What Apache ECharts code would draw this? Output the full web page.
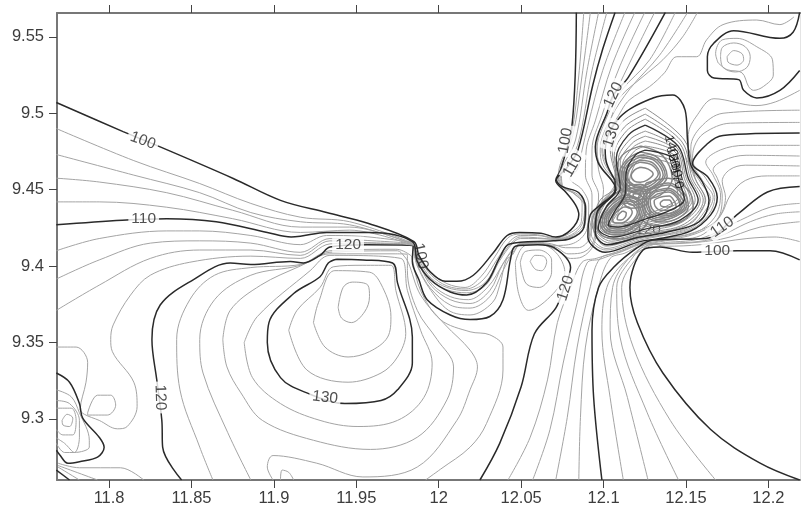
<!DOCTYPE html>
<html><head><meta charset="utf-8">
<script src="https://cdn.jsdelivr.net/npm/echarts@6/dist/echarts.min.js"></script>
<style>html,body{margin:0;padding:0;background:#fff}#c{width:801px;height:510px}</style>
</head><body><div id="c"></div>
<script>
const xTicks=[11.8,11.85,11.9,11.95,12,12.05,12.1,12.15,12.2];
const yTicks=[9.3,9.35,9.4,9.45,9.5,9.55];
// major contours
const c100a=[[11.768,9.507],[11.8085,9.488],[11.831,9.478],[11.875,9.4575],[11.904,9.443],[11.932,9.435],[11.957,9.428],[11.985,9.416],[11.988,9.407],[11.995,9.396],[12.004,9.390],[12.011,9.39],[12.021,9.394],[12.033,9.4085],[12.0415,9.420],[12.049,9.422],[12.062,9.4215],[12.071,9.419],[12.08,9.4235],[12.085,9.4335],[12.083,9.44],[12.077,9.4485],[12.071,9.456],[12.074,9.463],[12.081,9.4935],[12.0835,9.566]];
const c100b=[[12.219,9.26],[12.195,9.271],[12.165,9.293],[12.136,9.33],[12.1205,9.363],[12.116,9.386],[12.124,9.4105],[12.134,9.4125],[12.154,9.409],[12.181,9.41],[12.201,9.41],[12.219,9.404]];
const c110a=[[11.768,9.427],[11.808,9.43],[11.835,9.431],[11.865,9.429],[11.896,9.422],[11.9105,9.419],[11.916,9.4195],[11.932,9.422],[11.958,9.422],[11.984,9.416],[11.987,9.403],[11.995,9.391],[12.007,9.383],[12.017,9.381],[12.029,9.389],[12.037,9.4055],[12.043,9.4145],[12.0695,9.4165],[12.08,9.418],[12.088,9.425],[12.089,9.438],[12.085,9.448],[12.075,9.452],[12.0715,9.4565],[12.0775,9.464],[12.0845,9.476],[12.0935,9.5185],[12.0995,9.542],[12.107,9.566]];
const c110b=[[12.099,9.26],[12.094,9.314],[12.093,9.358],[12.097,9.386],[12.106,9.399],[12.1205,9.412],[12.130,9.417],[12.162,9.418],[12.182,9.4345],[12.1995,9.4485],[12.219,9.452]];
const c120a=[[11.844,9.26],[11.8325,9.2815],[11.832,9.299],[11.829,9.325],[11.826,9.352],[11.831,9.3745],[11.851,9.391],[11.8735,9.402],[11.886,9.401],[11.91,9.403],[11.918,9.402],[11.928,9.407],[11.934,9.4125],[11.9565,9.414],[11.9845,9.413],[11.984,9.403],[11.988,9.391],[11.993,9.378],[12.007,9.368],[12.019,9.365],[12.031,9.367],[12.039,9.378],[12.0435,9.404],[12.0465,9.413],[12.06,9.414],[12.07,9.412],[12.08,9.399],[12.076,9.386],[12.071,9.3725],[12.058,9.3555],[12.05,9.321],[12.037,9.284],[12.025,9.26]];
const c120b=[[12.1375,9.566],[12.115,9.5235],[12.106,9.512],[12.102,9.5],[12.095,9.478],[12.097,9.467],[12.1075,9.45],[12.098,9.44],[12.092,9.4335],[12.0905,9.419],[12.101,9.409],[12.122,9.416],[12.134,9.418],[12.153,9.423],[12.165,9.4335],[12.169,9.445],[12.1635,9.458],[12.154,9.467],[12.163,9.48],[12.1725,9.4855],[12.219,9.487]];
const c130a=[[12.219,9.528],[12.207,9.515],[12.193,9.51],[12.185,9.515],[12.182,9.522],[12.167,9.523],[12.163,9.528],[12.163,9.537],[12.167,9.546],[12.179,9.554],[12.207,9.549],[12.215,9.553],[12.219,9.566]];
const c130b=[[12.107,9.456],[12.102,9.467],[12.101,9.476],[12.11,9.4975],[12.13,9.51],[12.142,9.512],[12.1495,9.502],[12.151,9.482],[12.153,9.466],[12.16,9.455],[12.164,9.443],[12.158,9.429],[12.1375,9.422],[12.122,9.419],[12.102,9.414],[12.095,9.422],[12.096,9.435],[12.107,9.45],[12.107,9.456]];
const c130c=[[11.938,9.4045],[11.954,9.404],[11.972,9.402],[11.975,9.389],[11.984,9.3535],[11.984,9.3365],[11.975,9.319],[11.965,9.312],[11.943,9.31],[11.92,9.317],[11.904,9.327],[11.896,9.35],[11.897,9.363],[11.912,9.382],[11.928,9.393],[11.933,9.402],[11.938,9.4045]];
const cCornerA=[[11.768,9.33],[11.776,9.324],[11.782,9.31],[11.784,9.3005],[11.794,9.288],[11.797,9.2815],[11.793,9.275],[11.782,9.272],[11.775,9.271],[11.77,9.2765],[11.768,9.2795]];
const cCornerB=[[11.768,9.2665],[11.776,9.26]];
// blob major rings
const r5=[[12.1253,9.4922],[12.115,9.4857],[12.1077,9.4706],[12.1101,9.451],[12.1016,9.4386],[12.0968,9.4249],[12.1059,9.419],[12.1253,9.4242],[12.1465,9.4301],[12.1574,9.4432],[12.1514,9.4575],[12.1453,9.4785]];
const r10=[[12.1253,9.4759],[12.1193,9.4726],[12.1138,9.4615],[12.1132,9.4477],[12.1065,9.4353],[12.1029,9.4268],[12.1089,9.4255],[12.1253,9.4307],[12.1405,9.4366],[12.149,9.4438],[12.1453,9.4575],[12.1423,9.4706]];
// minor contours, left fan
const L1=[[11.768,9.49],[11.815,9.469],[11.855,9.454],[11.886,9.441],[11.916,9.432],[11.946,9.429],[11.9845,9.415]];
const L2=[[11.768,9.473],[11.815,9.4595],[11.855,9.448],[11.886,9.435],[11.916,9.429],[11.946,9.427],[11.9845,9.4145]];
const L3=[[11.768,9.4575],[11.794,9.455],[11.835,9.448],[11.875,9.4365],[11.916,9.4255],[11.946,9.4255],[11.9845,9.414]];
const L4=[[11.768,9.442],[11.794,9.442],[11.835,9.4385],[11.875,9.431],[11.916,9.422],[11.946,9.4235],[11.9845,9.4135]];
const M1=[[11.768,9.41],[11.794,9.418],[11.835,9.423],[11.855,9.423],[11.886,9.42],[11.916,9.414],[11.932,9.42],[11.9525,9.4195],[11.984,9.4155]];
const M2=[[11.768,9.3915],[11.794,9.404],[11.825,9.415],[11.855,9.4165],[11.886,9.415],[11.916,9.409],[11.934,9.418],[11.9525,9.417],[11.984,9.415]];
const M3=[[11.768,9.371],[11.794,9.3875],[11.825,9.405],[11.855,9.4105],[11.886,9.4105],[11.916,9.407],[11.934,9.4165],[11.9525,9.4155],[11.984,9.4145]];
const M4=[[11.984,9.414],[11.9525,9.415],[11.934,9.4145],[11.916,9.405],[11.886,9.4065],[11.849,9.4025],[11.825,9.394],[11.813,9.381],[11.8025,9.3615],[11.801,9.352],[11.802,9.344],[11.815,9.324],[11.817,9.308],[11.811,9.295],[11.805,9.2935],[11.794,9.299],[11.785,9.303],[11.7825,9.306],[11.786,9.324],[11.787,9.337],[11.78,9.347],[11.768,9.347]];
// central hill
const ringA=[[11.909,9.358],[11.914,9.371],[11.928,9.386],[11.936,9.3995],[11.954,9.4005],[11.971,9.4005],[11.974,9.384],[11.98,9.356],[11.975,9.3405],[11.965,9.33],[11.945,9.324],[11.92,9.332],[11.909,9.358]];
const ringB=[[11.924,9.363],[11.927,9.376],[11.937,9.397],[11.958,9.396],[11.966,9.386],[11.971,9.367],[11.969,9.3535],[11.958,9.344],[11.945,9.3405],[11.931,9.347],[11.924,9.363]];
const ringC=[[11.939,9.373],[11.942,9.386],[11.9475,9.3895],[11.957,9.3875],[11.958,9.38],[11.955,9.37],[11.947,9.363],[11.941,9.366],[11.939,9.373]];
const g1=[[11.882,9.35],[11.89,9.367],[11.922,9.397],[11.934,9.407],[11.977,9.405],[11.981,9.384],[11.989,9.358],[11.996,9.3365],[11.991,9.314],[11.975,9.299],[11.951,9.295],[11.928,9.299],[11.904,9.31],[11.887,9.327],[11.882,9.35]];
const g2=[[11.869,9.352],[11.8735,9.371],[11.892,9.3875],[11.916,9.4],[11.934,9.408],[11.974,9.408],[11.981,9.4075],[11.981,9.397],[11.987,9.371],[11.999,9.352],[12.009,9.334],[12.005,9.3125],[11.987,9.288],[11.9585,9.28],[11.924,9.286],[11.893,9.299],[11.88,9.317],[11.8715,9.334],[11.869,9.352]];
const g3=[[11.886,9.26],[11.872,9.291],[11.857,9.33],[11.855,9.352],[11.864,9.378],[11.886,9.394],[11.916,9.4005],[11.934,9.409],[11.975,9.41],[11.979,9.4065],[11.9815,9.4025],[11.989,9.381],[12.004,9.3615],[12.019,9.345],[12.0235,9.334],[12.019,9.319],[12.011,9.299],[11.987,9.2685],[11.954,9.262],[11.926,9.271],[11.8995,9.276],[11.896,9.2685],[11.8995,9.26]];
const g4=[[11.863,9.26],[11.855,9.2815],[11.843,9.319],[11.841,9.352],[11.849,9.378],[11.864,9.394],[11.886,9.399],[11.916,9.401],[11.934,9.41],[11.974,9.411],[11.983,9.407],[11.984,9.404],[11.989,9.384],[12.001,9.365],[12.019,9.357],[12.031,9.355],[12.039,9.347],[12.039,9.332],[12.029,9.297],[12.019,9.2815],[12.001,9.267],[11.992,9.26]];
const g5=[[11.904,9.26],[11.905,9.2665],[11.909,9.265],[11.912,9.26]];
// corner
const z1=[[11.7715,9.299],[11.7745,9.303],[11.778,9.3005],[11.776,9.295],[11.772,9.296],[11.7715,9.299]];
const z2=[[11.768,9.307],[11.777,9.307],[11.78,9.299],[11.778,9.2895],[11.772,9.2895],[11.768,9.293]];
const z3=[[11.768,9.312],[11.776,9.31],[11.782,9.299],[11.782,9.288],[11.779,9.278],[11.773,9.284],[11.768,9.2875]];
const z4=[[11.768,9.319],[11.777,9.3145],[11.782,9.304],[11.788,9.286],[11.788,9.2815],[11.779,9.278],[11.773,9.278],[11.768,9.284]];
const z5=[[11.787,9.304],[11.793,9.3155],[11.801,9.3155],[11.804,9.309],[11.799,9.3025],[11.787,9.3025],[11.787,9.304]];
const z6=[[11.769,9.271],[11.782,9.268],[11.807,9.268],[11.821,9.26]];
const z7=[[11.769,9.2695],[11.793,9.26]];
const z8=[[11.769,9.2685],[11.782,9.26]];
// valley minors
const Da=[[12.088,9.566],[12.085,9.525],[12.0805,9.486],[12.0725,9.459],[12.0735,9.454],[12.0815,9.448],[12.087,9.441],[12.0865,9.429],[12.0795,9.4215],[12.0705,9.4185],[12.06,9.4205],[12.0495,9.421],[12.042,9.4185],[12.034,9.406],[12.0255,9.393],[12.016,9.386],[12.005,9.3885],[11.9955,9.396],[11.988,9.406],[11.9845,9.414]];
const Db=[[12.092,9.566],[12.087,9.525],[12.0815,9.486],[12.073,9.458],[12.0745,9.453],[12.0825,9.447],[12.0885,9.439],[12.087,9.4275],[12.0805,9.4205],[12.0705,9.418],[12.06,9.42],[12.0495,9.42],[12.0435,9.4165],[12.0355,9.4045],[12.027,9.391],[12.0165,9.385],[12.005,9.387],[11.9955,9.394],[11.9885,9.4045],[11.9845,9.4135]];
const Dc=[[12.097,9.566],[12.09,9.528],[12.083,9.4825],[12.074,9.459],[12.075,9.452],[12.0835,9.4465],[12.089,9.4385],[12.088,9.427],[12.081,9.42],[12.0705,9.4175],[12.06,9.4185],[12.0495,9.419],[12.044,9.415],[12.0365,9.404],[12.028,9.389],[12.0165,9.384],[12.005,9.386],[11.9955,9.392],[11.9885,9.403],[11.9845,9.413]];
const Dd=[[12.102,9.566],[12.093,9.528],[12.0842,9.479],[12.0745,9.459],[12.0757,9.4515],[12.0842,9.447],[12.0895,9.4385],[12.0885,9.426],[12.0817,9.4195],[12.0705,9.4175],[12.06,9.418],[12.0495,9.418],[12.0445,9.4145],[12.037,9.4035],[12.0285,9.3875],[12.017,9.3825],[12.005,9.3845],[11.9955,9.391],[11.988,9.402],[11.9845,9.4125]];
const V4=[[12.113,9.566],[12.0995,9.528],[12.0905,9.492],[12.087,9.476],[12.084,9.463],[12.0795,9.4575],[12.087,9.45],[12.091,9.44],[12.09,9.4245],[12.083,9.4155],[12.071,9.4135],[12.06,9.415],[12.0495,9.4145],[12.0445,9.4105],[12.039,9.4015],[12.03,9.3865],[12.018,9.378],[12.007,9.38],[11.9965,9.3875],[11.9895,9.399],[11.985,9.4105]];
const V3=[[12.119,9.566],[12.105,9.531],[12.095,9.495],[12.0895,9.476],[12.089,9.4595],[12.093,9.4465],[12.093,9.43],[12.091,9.417],[12.0845,9.412],[12.077,9.412],[12.0685,9.4145],[12.06,9.4155],[12.05,9.415],[12.045,9.4105],[12.0385,9.4005],[12.031,9.384],[12.019,9.3755],[12.007,9.378],[11.9955,9.387],[11.989,9.3995],[11.985,9.41]];
const V2=[[12.125,9.566],[12.11,9.531],[12.099,9.4985],[12.093,9.476],[12.093,9.4595],[12.097,9.4465],[12.0955,9.429],[12.093,9.414],[12.086,9.4085],[12.0785,9.408],[12.071,9.4125],[12.06,9.415],[12.0505,9.4145],[12.046,9.4105],[12.039,9.397],[12.031,9.38],[12.019,9.3725],[12.007,9.3745],[11.995,9.3855],[11.988,9.3985],[11.985,9.409]];
const V1=[[12.131,9.566],[12.115,9.531],[12.104,9.505],[12.096,9.479],[12.097,9.463],[12.1,9.45],[12.098,9.437],[12.094,9.414],[12.087,9.406],[12.08,9.405],[12.0725,9.41],[12.06,9.4145],[12.0495,9.414],[12.0445,9.407],[12.041,9.404],[12.037,9.3875],[12.0325,9.376],[12.019,9.368],[12.006,9.371],[11.994,9.386],[11.987,9.4],[11.985,9.408]];
// lower fan
const F1=[[12.042,9.26],[12.0555,9.288],[12.066,9.3255],[12.072,9.363],[12.08,9.386],[12.087,9.4025],[12.0955,9.405],[12.11,9.41],[12.122,9.415],[12.1375,9.418],[12.156,9.422],[12.1675,9.432],[12.171,9.4465],[12.1665,9.4595],[12.162,9.468],[12.171,9.476],[12.186,9.479],[12.219,9.479]];
const F2=[[12.057,9.26],[12.0675,9.293],[12.0755,9.3365],[12.084,9.376],[12.09,9.402],[12.098,9.4045],[12.1115,9.41],[12.122,9.4145],[12.1375,9.418],[12.155,9.422],[12.169,9.4305],[12.172,9.4465],[12.169,9.4575],[12.1665,9.463],[12.1725,9.469],[12.1865,9.4725],[12.219,9.472]];
const F3=[[12.071,9.26],[12.078,9.301],[12.084,9.347],[12.092,9.3865],[12.098,9.405],[12.11,9.409],[12.122,9.414],[12.1375,9.417],[12.1555,9.421],[12.1685,9.4295],[12.174,9.445],[12.172,9.4555],[12.1765,9.463],[12.186,9.466],[12.219,9.4655]];
const F4=[[12.085,9.26],[12.086,9.301],[12.089,9.347],[12.097,9.3865],[12.104,9.405],[12.113,9.4085],[12.122,9.413],[12.1375,9.4165],[12.159,9.42],[12.171,9.433],[12.177,9.4465],[12.186,9.456],[12.1995,9.459],[12.219,9.459]];
const F5=[[12.112,9.26],[12.104,9.314],[12.099,9.358],[12.102,9.386],[12.112,9.402],[12.1265,9.4125],[12.1345,9.415],[12.159,9.418],[12.183,9.43],[12.201,9.4385],[12.219,9.441]];
const F6=[[12.127,9.26],[12.1145,9.314],[12.104,9.358],[12.1055,9.386],[12.1145,9.404],[12.1265,9.4135],[12.1345,9.4145],[12.165,9.4175],[12.189,9.429],[12.204,9.434],[12.219,9.4355]];
const F7=[[12.1455,9.26],[12.1265,9.304],[12.11,9.3535],[12.108,9.386],[12.118,9.406],[12.128,9.415],[12.1345,9.4145],[12.171,9.4175],[12.195,9.4255],[12.219,9.429]];
const F8=[[12.168,9.26],[12.1405,9.299],[12.118,9.347],[12.111,9.386],[12.1205,9.406],[12.1295,9.4145],[12.1375,9.413],[12.159,9.414],[12.187,9.418],[12.204,9.419],[12.219,9.416]];
// upper band
const U1=[[12.1435,9.566],[12.128,9.535],[12.111,9.515],[12.101,9.495],[12.096,9.476],[12.098,9.466],[12.108,9.451],[12.098,9.441],[12.093,9.4315],[12.0915,9.4195],[12.1015,9.4105],[12.122,9.417],[12.134,9.4195],[12.153,9.424],[12.164,9.434],[12.1675,9.445],[12.162,9.4575],[12.154,9.469],[12.155,9.478],[12.161,9.487],[12.177,9.4935],[12.219,9.494]];
const U2=[[12.151,9.566],[12.134,9.538],[12.116,9.516],[12.1045,9.497],[12.098,9.476],[12.0995,9.466],[12.108,9.4525],[12.098,9.44],[12.093,9.429],[12.0925,9.421],[12.1015,9.4115],[12.122,9.418],[12.134,9.42],[12.153,9.425],[12.1625,9.435],[12.1665,9.445],[12.16,9.456],[12.153,9.4705],[12.153,9.478],[12.159,9.491],[12.1725,9.5],[12.219,9.502]];
const U3=[[12.157,9.566],[12.148,9.55],[12.136,9.535],[12.124,9.524],[12.11,9.5105],[12.105,9.498],[12.099,9.476],[12.1005,9.4675],[12.107,9.4535],[12.0965,9.438],[12.094,9.425],[12.1015,9.413],[12.122,9.4185],[12.134,9.42],[12.153,9.426],[12.1615,9.436],[12.165,9.444],[12.159,9.4545],[12.1515,9.47],[12.1515,9.486],[12.157,9.499],[12.167,9.5095],[12.1925,9.505],[12.2045,9.5075],[12.219,9.515]];
const U4=[[12.2155,9.563],[12.207,9.558],[12.193,9.561],[12.1725,9.558],[12.1625,9.548],[12.1565,9.537],[12.1445,9.537],[12.137,9.5265],[12.128,9.5175],[12.116,9.509],[12.111,9.502],[12.0995,9.476],[12.102,9.466],[12.107,9.455],[12.098,9.44],[12.094,9.4235],[12.1025,9.414],[12.122,9.419],[12.153,9.428],[12.16,9.438],[12.162,9.443],[12.156,9.456],[12.15,9.471]];
// small hills
const hillA=[[12.1695,9.533],[12.168,9.539],[12.172,9.548],[12.181,9.549],[12.193,9.5435],[12.2025,9.535],[12.203,9.525],[12.197,9.5175],[12.191,9.515],[12.188,9.5175],[12.184,9.5265],[12.175,9.5285],[12.1695,9.533]];
const hillB=[[12.171,9.537],[12.172,9.543],[12.179,9.546],[12.186,9.5435],[12.189,9.537],[12.187,9.53],[12.18,9.527],[12.1725,9.53],[12.171,9.537]];
const hillC=[[12.175,9.537],[12.179,9.541],[12.184,9.539],[12.185,9.535],[12.181,9.5315],[12.1755,9.5335],[12.175,9.537]];
const hill2A=[[12.0465,9.4025],[12.051,9.4125],[12.0605,9.4145],[12.071,9.409],[12.0765,9.396],[12.0695,9.382],[12.0545,9.371],[12.0485,9.382],[12.0465,9.4025]];
const hill2B=[[12.0495,9.4025],[12.0525,9.4095],[12.061,9.4105],[12.0685,9.404],[12.0685,9.396],[12.061,9.386],[12.0535,9.388],[12.0505,9.396],[12.0495,9.4025]];
const hill2C=[[12.0555,9.403],[12.0585,9.407],[12.0635,9.4065],[12.0655,9.403],[12.0625,9.397],[12.0585,9.398],[12.0555,9.403]];
// blob minor rings
const r2=[[12.1253,9.5033],[12.1114,9.4942],[12.1041,9.4759],[12.1083,9.453],[12.098,9.4432],[12.0931,9.4268],[12.1041,9.415],[12.1253,9.4209],[12.1496,9.4261],[12.1617,9.4432],[12.1556,9.4575],[12.149,9.4825]];
const r3=[[12.1253,9.4994],[12.1126,9.4909],[12.1053,9.4746],[12.1089,9.4523],[12.0992,9.4412],[12.0944,9.4262],[12.1047,9.4163],[12.1253,9.4216],[12.149,9.4275],[12.1605,9.4432],[12.1538,9.4575],[12.1477,9.4811]];
const r4=[[12.1253,9.4961],[12.1138,9.4883],[12.1065,9.4726],[12.1095,9.4517],[12.1004,9.4399],[12.0956,9.4255],[12.1053,9.4177],[12.1253,9.4229],[12.1477,9.4288],[12.1587,9.4432],[12.1526,9.4575],[12.1465,9.4798]];
const r6=[[12.1253,9.4883],[12.1162,9.483],[12.1089,9.4693],[12.1107,9.4504],[12.1029,9.4373],[12.098,9.4249],[12.1065,9.4203],[12.1253,9.4255],[12.1453,9.4314],[12.1556,9.4432],[12.1502,9.4575],[12.1447,9.4772]];
const r7=[[12.1253,9.485],[12.1174,9.4804],[12.1101,9.4674],[12.1114,9.4497],[12.1041,9.4366],[12.0992,9.4249],[12.1071,9.4216],[12.1253,9.4268],[12.1441,9.4327],[12.1538,9.4432],[12.149,9.4575],[12.1441,9.4759]];
const r8=[[12.1253,9.4818],[12.118,9.4778],[12.1114,9.4654],[12.112,9.4491],[12.1047,9.436],[12.1004,9.4255],[12.1077,9.4229],[12.1253,9.4281],[12.1429,9.434],[12.1526,9.4432],[12.1477,9.4575],[12.1435,9.4746]];
const r9=[[12.1253,9.4785],[12.1187,9.4752],[12.1126,9.4634],[12.1126,9.4484],[12.1053,9.4353],[12.1016,9.4262],[12.1083,9.4242],[12.1253,9.4294],[12.1417,9.4353],[12.1508,9.4432],[12.1465,9.4575],[12.1429,9.4726]];
const r11=[[12.1253,9.4733],[12.1199,9.4706],[12.115,9.4602],[12.1138,9.4471],[12.1077,9.4353],[12.1041,9.4275],[12.1101,9.4268],[12.1253,9.432],[12.1393,9.4379],[12.1471,9.4445],[12.1441,9.4575],[12.1417,9.4687]];
const r12=[[12.1253,9.4706],[12.1205,9.4687],[12.1162,9.4589],[12.115,9.4464],[12.1089,9.4353],[12.1053,9.4288],[12.1114,9.4281],[12.1253,9.4334],[12.1381,9.4392],[12.1453,9.4451],[12.1429,9.4575],[12.1411,9.4667]];
// dome rings
const d0=[[12.1223,9.4785],[12.1114,9.4726],[12.1071,9.4595],[12.1114,9.4497],[12.1223,9.4438],[12.1344,9.4464],[12.1417,9.4575],[12.1356,9.4726]];
const d1=[[12.1223,9.4746],[12.1138,9.4693],[12.1095,9.4595],[12.1132,9.451],[12.1223,9.4471],[12.1313,9.4497],[12.1386,9.4588],[12.1332,9.4706]];
const d1b=[[12.1223,9.4726],[12.115,9.4687],[12.1107,9.4595],[12.1138,9.4517],[12.1223,9.4484],[12.1301,9.451],[12.1374,9.4595],[12.1325,9.4693]];
const d2=[[12.1223,9.4713],[12.1156,9.4674],[12.112,9.4595],[12.115,9.4523],[12.1223,9.4497],[12.1295,9.4517],[12.1362,9.4595],[12.1313,9.4687]];
const d2b=[[12.1223,9.4693],[12.1162,9.4661],[12.1132,9.4595],[12.1162,9.4536],[12.1223,9.451],[12.1289,9.453],[12.1344,9.4595],[12.1301,9.4674]];
const d3=[[12.1223,9.468],[12.1174,9.4654],[12.1144,9.4595],[12.1168,9.4543],[12.1223,9.4523],[12.1283,9.4543],[12.1332,9.4602],[12.1295,9.4661]];
const d4=[[12.1223,9.4647],[12.1187,9.4628],[12.1168,9.4589],[12.1187,9.4556],[12.1223,9.4549],[12.1265,9.4562],[12.1301,9.4602],[12.1271,9.4634]];
// right lobe rings
const e0=[[12.1259,9.4543],[12.1393,9.4575],[12.1514,9.4497],[12.1544,9.4386],[12.1477,9.4295],[12.1344,9.4262],[12.1235,9.4301],[12.1211,9.4432]];
const e1=[[12.1283,9.451],[12.1393,9.4543],[12.149,9.4477],[12.1514,9.4386],[12.1453,9.4314],[12.1344,9.4288],[12.1253,9.4334],[12.1235,9.4432]];
const e1b=[[12.1295,9.4504],[12.1393,9.453],[12.1477,9.4471],[12.1502,9.4386],[12.1441,9.4327],[12.1344,9.4301],[12.1265,9.4347],[12.1247,9.4432]];
const e2=[[12.1307,9.4491],[12.1393,9.451],[12.1465,9.4458],[12.149,9.4386],[12.1435,9.4334],[12.1344,9.4314],[12.1277,9.4353],[12.1259,9.4425]];
const e2b=[[12.1313,9.4484],[12.1393,9.4497],[12.1453,9.4451],[12.1477,9.4386],[12.1423,9.434],[12.1344,9.4327],[12.1283,9.4366],[12.1271,9.4425]];
const e3=[[12.1325,9.4471],[12.1393,9.4484],[12.1447,9.4445],[12.1465,9.4386],[12.1417,9.4347],[12.1344,9.434],[12.1295,9.4373],[12.1283,9.4425]];
const e4=[[12.1344,9.4451],[12.1399,9.4458],[12.1429,9.4425],[12.1441,9.4386],[12.1399,9.4366],[12.1344,9.4366],[12.1313,9.4392],[12.1307,9.4425]];
const e5=[[12.1362,9.4432],[12.1399,9.4432],[12.1417,9.4399],[12.1387,9.4386],[12.135,9.4392],[12.1344,9.4412]];
// left lobe rings
const f0=[[12.1107,9.4497],[12.101,9.4419],[12.0956,9.4301],[12.0986,9.4203],[12.1101,9.4177],[12.1223,9.4229],[12.1283,9.4353],[12.1223,9.4464]];
const f1=[[12.1114,9.4464],[12.1029,9.4399],[12.098,9.4301],[12.101,9.4222],[12.1101,9.4203],[12.1205,9.4249],[12.1253,9.4353],[12.1205,9.4445]];
const f1b=[[12.1114,9.4451],[12.1041,9.4392],[12.0992,9.4301],[12.1016,9.4235],[12.1101,9.4216],[12.1193,9.4262],[12.1241,9.4353],[12.1193,9.4438]];
const f2=[[12.112,9.4438],[12.1047,9.4379],[12.1004,9.4301],[12.1029,9.4242],[12.1101,9.4229],[12.1187,9.4268],[12.1229,9.4353],[12.1187,9.4425]];
const f2b=[[12.112,9.4425],[12.1053,9.4373],[12.1016,9.4301],[12.1035,9.4255],[12.1101,9.4242],[12.1174,9.4281],[12.1217,9.4353],[12.1174,9.4418]];
const f3=[[12.112,9.4412],[12.1059,9.4366],[12.1029,9.4301],[12.1047,9.4262],[12.1101,9.4255],[12.1168,9.4288],[12.1205,9.4353],[12.1168,9.4405]];
const f4=[[12.112,9.4386],[12.1077,9.4353],[12.1053,9.4307],[12.1071,9.4281],[12.1107,9.4281],[12.115,9.4307],[12.1174,9.4353],[12.115,9.4386]];
const f5=[[12.1114,9.436],[12.1089,9.4334],[12.1083,9.4307],[12.1107,9.4301],[12.1132,9.432],[12.1138,9.4347]];
// core rings
const k1=[[12.1126,9.4523],[12.1223,9.4536],[12.1283,9.4477],[12.1253,9.4399],[12.1162,9.4379],[12.1107,9.4451]];
const k2=[[12.1144,9.4504],[12.1223,9.4516],[12.1265,9.4471],[12.1235,9.4412],[12.1168,9.4399],[12.1132,9.4451]];
const k3=[[12.1162,9.4484],[12.1223,9.4497],[12.1247,9.4464],[12.1223,9.4432],[12.118,9.4418],[12.1156,9.4451]];
const k4=[[12.118,9.4471],[12.1217,9.4477],[12.1229,9.4458],[12.1205,9.4445],[12.118,9.4445]];

const majorOpen=[c100a,c100b,c110a,c110b,c120a,c120b,c130a,c130b,c130c,cCornerA,cCornerB];
const majorRings=[r5,r10];
const minorOpen=[L1,L2,L3,L4,M1,M2,M3,M4,ringA,ringB,ringC,g1,g2,g3,g4,g5,z1,z2,z3,z4,z5,z6,z7,z8,Da,Db,Dc,Dd,V1,V2,V3,V4,F1,F2,F3,F4,F5,F6,F7,F8,U1,U2,U3,U4,hillA,hillB,hillC,hill2A,hill2B,hill2C];
const minorRings=[r2,r3,r4,r6,r7,r8,r9,r11,r12];
const coreRings=[d0,d1,d1b,d2,d2b,d3,d4,e0,e1,e1b,e2,e2b,e3,e4,e5,f0,f1,f1b,f2,f2b,f3,f4,f5,k1,k2,k3,k4];
// x, y, text, rotation, backing: 1 white box, 0 none, 2 none and under the lines
const contourLabels=[
[11.8205,9.482,'100',-20,1],[11.821,9.431,'110',0,1],[11.945,9.414,'120',0,1],[11.931,9.314,'130',-7,1],
[11.831,9.314,'120',-88,1],[11.989,9.4065,'100',-78,0],[12.077,9.3855,'120',72,1],[12.077,9.482,'100',80,1],
[12.0815,9.466,'110',60,1],[12.106,9.512,'120',65,1],[12.105,9.486,'130',72,1],[12.127,9.4235,'120',0,2],
[12.172,9.4255,'110',35,1],[12.169,9.41,'100',0,1],
[12.141,9.4785,'140',-75,0],[12.142,9.471,'150',-75,0],[12.1435,9.465,'160',-75,0],[12.1445,9.4575,'170',-75,0]];

const close=a=>a.concat([a[0]]);
const line=(d,color,w,z)=>({type:'line',data:d,symbol:'none',smooth:0.35,silent:true,z,animation:false,clip:true,lineStyle:{color,width:w}});
const labelItem=l=>({value:[l[0],l[1]],label:{show:true,position:'inside',formatter:l[2],rotate:l[3],
    fontFamily:'Liberation Sans',fontSize:Math.abs(l[3])===75?13:15.5,color:Math.abs(l[3])===75?'#111':'#262626',
    backgroundColor:l[4]===1?'#fff':'transparent',padding:l[4]===1?[0,3]:0}});
const labelSeries=(items,z)=>({type:'scatter',symbolSize:1,z,silent:true,animation:false,itemStyle:{color:'transparent'},data:items.map(labelItem)});
const series=[
 labelSeries(contourLabels.filter(l=>l[4]===2),1),
 ...minorOpen.map(d=>line(d,'#a4a4a4',1,2)),
 ...minorRings.map(d=>line(close(d),'#8e8e8e',1,2)),
 ...coreRings.map(d=>line(close(d),'#858585',1.5,2)),
 ...majorOpen.map(d=>line(d,'#2a2a2a',1.5,3)),
 ...majorRings.map(d=>line(close(d),'#333',1.4,3)),
 labelSeries(contourLabels.filter(l=>l[4]!==2),5)
];
const axisFont={fontFamily:'Liberation Sans',fontSize:16.5,color:'#3c3c3c'};
const ax={axisLine:{show:true,onZero:false,lineStyle:{color:'#777',width:2}},axisTick:{show:true,length:8,lineStyle:{color:'#444',width:1}},splitLine:{show:false}};
const chart=echarts.init(document.getElementById('c'),null,{renderer:'canvas'});
chart.setOption({animation:false,backgroundColor:'#fff',
 grid:{left:57,right:1,top:13,bottom:30},
 xAxis:[
  {type:'value',position:'bottom',min:11.7684,max:12.2192,...ax,axisTick:{...ax.axisTick,customValues:xTicks},
   axisLabel:{...axisFont,margin:10,customValues:xTicks,formatter:v=>String(v)}},
  {type:'value',position:'top',min:11.7684,max:12.2192,...ax,axisTick:{...ax.axisTick,customValues:xTicks},axisLabel:{show:false}}],
 yAxis:[
  {type:'value',position:'left',min:9.26,max:9.5656,...ax,axisTick:{...ax.axisTick,customValues:yTicks},
   axisLabel:{...axisFont,margin:13,customValues:yTicks,formatter:v=>String(v)}},
  {type:'value',position:'right',min:9.26,max:9.5656,axisLine:{show:true,onZero:false,lineStyle:{color:'#e4e4e4',width:1}},axisTick:{show:false},axisLabel:{show:false},splitLine:{show:false}}],
 series});
</script></body></html>
